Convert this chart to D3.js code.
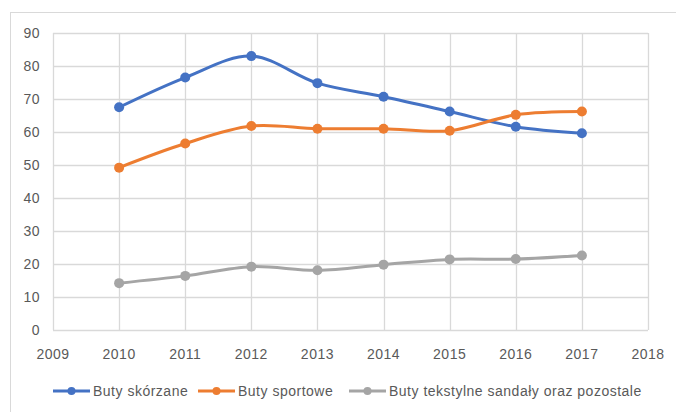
<!DOCTYPE html>
<html>
<head>
<meta charset="utf-8">
<script src="https://d3js.org/d3.v7.min.js"></script>
<style>
  body { margin: 0; background: #fff; }
  text { font-family: 'Liberation Sans', Arial, sans-serif; fill: #595959; font-size: 14px; letter-spacing: 0.5px; }
</style>
</head>
<body>
<div id="chart"></div>
<script>
const years = [2010, 2011, 2012, 2013, 2014, 2015, 2016, 2017];
const skorzane = [67.5, 76.5, 83, 74.8, 70.7, 66.2, 61.6, 59.6];
const sportowe = [49.2, 56.5, 61.8, 61, 61, 60.4, 65.2, 66.2];
const tekstylne = [14.2, 16.4, 19.2, 18.1, 19.8, 21.4, 21.5, 22.6];
const seriesNames = ['Buty skórzane', 'Buty sportowe', 'Buty tekstylne sandały oraz pozostale'];
const colors = ['#4472c4', '#ed7d31', '#a5a5a5'];
const xTicks = [2009, 2010, 2011, 2012, 2013, 2014, 2015, 2016, 2017, 2018];
const yTicks = [0, 10, 20, 30, 40, 50, 60, 70, 80, 90];

const width = 676, height = 412;
const svg = d3.select('#chart').append('svg')
    .attr('width', width).attr('height', height);

// chart frame (only left + top visible in the crop)
svg.append('rect')
    .attr('x', 10.5).attr('y', 12.5)
    .attr('width', 700).attr('height', 500)
    .attr('fill', 'none').attr('stroke', '#d9d9d9');

const x = d3.scaleLinear().domain([2009, 2018]).range([53, 648]);
const y = d3.scaleLinear().domain([0, 90]).range([330, 33]);

// gridlines
svg.append('g').selectAll('line.h').data(yTicks).join('line')
    .attr('x1', x(2009)).attr('x2', x(2018))
    .attr('y1', d => Math.round(y(d)) + 0.5).attr('y2', d => Math.round(y(d)) + 0.5)
    .attr('stroke', '#d9d9d9').attr('stroke-width', 1.3);
svg.append('g').selectAll('line.v').data(xTicks).join('line')
    .attr('x1', d => Math.round(x(d)) + 0.5).attr('x2', d => Math.round(x(d)) + 0.5)
    .attr('y1', y(0)).attr('y2', y(90))
    .attr('stroke', '#d9d9d9').attr('stroke-width', 1.3);

// tick labels
svg.append('g').selectAll('text').data(yTicks).join('text')
    .attr('x', 40).attr('y', d => y(d) + 5)
    .attr('text-anchor', 'end')
    .text(d => d);
svg.append('g').selectAll('text').data(xTicks).join('text')
    .attr('x', d => x(d)).attr('y', 359)
    .attr('text-anchor', 'middle')
    .text(d => d);

// series
const allSeries = [skorzane, sportowe, tekstylne];
const line = d3.line()
    .x((d, i) => x(years[i]))
    .y(d => y(d))
    .curve(d3.curveCatmullRom.alpha(0.5));

allSeries.forEach((vals, k) => {
  const g = svg.append('g');
  g.append('path')
      .attr('d', line(vals))
      .attr('fill', 'none')
      .attr('stroke', colors[k])
      .attr('stroke-width', 3)
      .attr('stroke-linecap', 'round');
  g.selectAll('circle').data(vals).join('circle')
      .attr('cx', (d, i) => x(years[i]))
      .attr('cy', d => y(d))
      .attr('r', 5)
      .attr('fill', colors[k]);
});

// legend
const legendX = [53, 198, 349];
const leg = svg.append('g');
seriesNames.forEach((name, k) => {
  const lx = legendX[k], ly = 391;
  leg.append('line')
      .attr('x1', lx).attr('x2', lx + 37)
      .attr('y1', ly).attr('y2', ly)
      .attr('stroke', colors[k]).attr('stroke-width', 3);
  leg.append('circle')
      .attr('cx', lx + 18.5).attr('cy', ly).attr('r', 4)
      .attr('fill', colors[k]);
  leg.append('text')
      .attr('x', lx + 40).attr('y', ly + 5)
      .text(name);
});
</script>
</body>
</html>
